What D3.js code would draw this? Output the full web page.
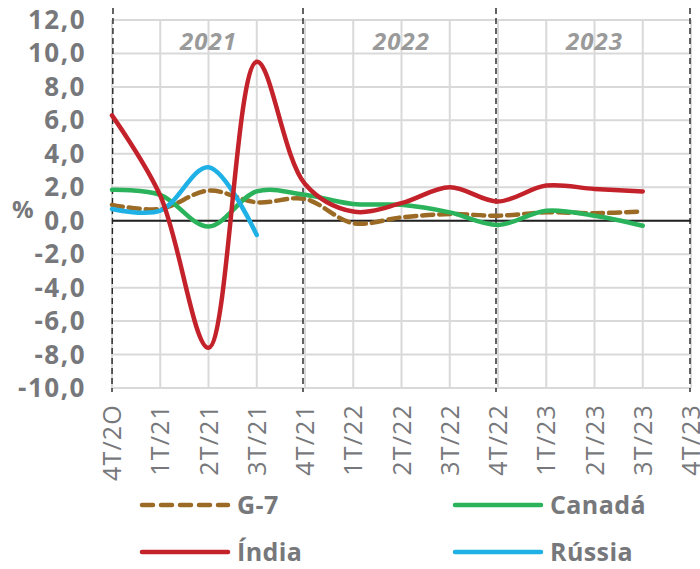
<!DOCTYPE html>
<html><head><meta charset="utf-8">
<script src="https://cdn.jsdelivr.net/npm/d3@7"></script>
<style>body{margin:0;background:#fff}svg{display:block;font-family:"Open Sans",sans-serif}</style>
</head><body><svg id="c" width="700" height="569"></svg>
<script>
const categories = ["4T/2O","1T/21","2T/21","3T/21","4T/21","1T/22","2T/22","3T/22","4T/22","1T/23","2T/23","3T/23","4T/23"];
const g7     = [0.95, 0.7, 1.8, 1.1, 1.3, -0.15, 0.2, 0.4, 0.3, 0.5, 0.45, 0.55];
const canada = [1.85, 1.55, -0.35, 1.75, 1.55, 1.0, 0.95, 0.5, -0.25, 0.6, 0.3, -0.3];
const india  = [6.3, 1.5, -7.6, 9.5, 2.2, 0.55, 1.05, 2.0, 1.15, 2.1, 1.9, 1.75];
const russia = [0.7, 0.6, 3.2, -0.85];
const yTicks = [12,10,8,6,4,2,0,-2,-4,-6,-8,-10];
const years = [{label:"2021", from:0, to:4},{label:"2022", from:4, to:8},{label:"2023", from:8, to:12}];
const yearBreaks = [0,4,8,12];

const series = [
  {name:"G-7", values:g7, color:"#9b6a24", dash:"11,6"},
  {name:"Canadá", values:canada, color:"#2bb35c", dash:null},
  {name:"Rússia", values:russia, color:"#1fb1e6", dash:null},
  {name:"Índia", values:india, color:"#c4222b", dash:null}
];

const svg = d3.select("#c");
const x = d3.scalePoint().domain(d3.range(categories.length)).range([112, 691]);
const y = d3.scaleLinear().domain([-10, 12]).range([388, 20]);
const grey = "#77787b";

// grid
svg.append("g").selectAll("line.h").data(yTicks).join("line")
  .attr("x1", 112).attr("x2", 691).attr("y1", d=>y(d)).attr("y2", d=>y(d))
  .attr("stroke", "#d9d9d9").attr("stroke-width", 2);
svg.append("g").selectAll("line.v").data(d3.range(categories.length)).join("line")
  .attr("x1", d=>x(d)).attr("x2", d=>x(d)).attr("y1", y(12)).attr("y2", y(-10))
  .attr("stroke", "#d9d9d9").attr("stroke-width", 2);

// zero line
svg.append("line").attr("x1",112).attr("x2",691).attr("y1",y(0)).attr("y2",y(0))
  .attr("stroke","#222").attr("stroke-width",1.8);

// year separators
svg.append("g").selectAll("line").data(yearBreaks).join("line")
  .attr("x1", d=>x(d)+(d===0?1:(d===12?-1:-2))).attr("x2", d=>x(d)+(d===0?0:(d===12?-1:-2)))
  .attr("y1", 8).attr("y2", 392)
  .attr("stroke","#222").attr("stroke-width",1.4).attr("stroke-dasharray","6,4");

// year labels
svg.append("g").selectAll("text").data(years).join("text")
  .attr("x", d=>(x(d.from)+x(d.to))/2).attr("y", 50)
  .attr("text-anchor","middle").attr("font-size",24).attr("font-weight","bold")
  .attr("font-style","italic").attr("fill","#9a9a9a").attr("letter-spacing",1)
  .text(d=>d.label);

// y axis labels
const fmt = d => d3.format(".1f")(d).replace(".", ",").replace("−","-");
svg.append("g").selectAll("text").data(yTicks).join("text")
  .attr("x", 86).attr("y", d=>y(d)+9)
  .attr("text-anchor","end").attr("font-size",26).attr("font-weight","bold")
  .attr("fill",grey).attr("letter-spacing",1.5)
  .text(fmt);
svg.append("text").attr("x",12).attr("y",218).attr("font-size",24).attr("font-weight","bold")
  .attr("fill",grey).text("%");

// x labels
svg.append("g").selectAll("text").data(categories).join("text")
  .attr("transform",(d,i)=>`translate(${x(i)+9},404) rotate(-90)`)
  .attr("text-anchor","end").attr("font-size",25).attr("fill",grey).attr("letter-spacing",1.2)
  .text(d=>d);

// lines
const line = d3.line().x((d,i)=>x(i)).y(d=>y(d)).curve(d3.curveCatmullRom.alpha(0.5));
svg.append("g").selectAll("path").data(series).join("path")
  .attr("d", d=>line(d.values)).attr("fill","none")
  .attr("stroke", d=>d.color).attr("stroke-width",4.5)
  .attr("stroke-linecap","round")
  .attr("stroke-dasharray", d=>d.dash);

// legend
const legend = [
  {s:series[0], lx:142, ly:505},
  {s:series[1], lx:455, ly:505},
  {s:series[3], lx:142, ly:552},
  {s:series[2], lx:455, ly:552}
];
const lg = svg.append("g");
legend.forEach(L=>{
  lg.append("line").attr("x1",L.lx).attr("x2",L.lx+86).attr("y1",L.ly).attr("y2",L.ly)
    .attr("stroke",L.s.color).attr("stroke-width",4.5).attr("stroke-linecap","round")
    .attr("stroke-dasharray", L.s.dash ? "11,8" : null);
  lg.append("text").attr("x",L.lx+95).attr("y",L.ly+9).attr("font-size",25).attr("font-weight","bold")
    .attr("fill",grey).attr("letter-spacing",0.4).text(L.s.name);
});
</script></body></html>
